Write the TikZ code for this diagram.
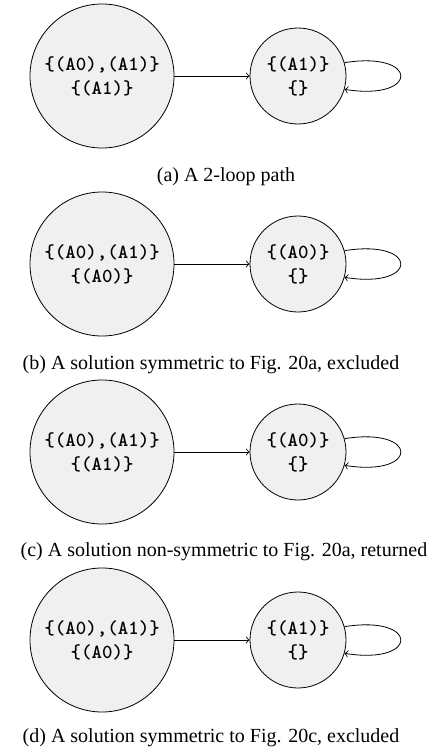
\documentclass[tikz,border=0pt]{standalone}
\usepackage{fontspec}
\setmainfont{Liberation Serif}
\usepackage{tikz}

\begin{document}
\begin{tikzpicture}[x=0.5pt, y=-0.5pt,
    state/.style={circle, draw, fill=black!6, inner sep=0pt, align=center, font=\ttfamily\bfseries},
    big/.style={state, minimum size=72pt},
    small/.style={state, minimum size=48pt}]
        \useasboundingbox (0,0) rectangle (442,755);
        % (a)
        \node[big] (big-a) at (102,76) {\{(A0),(A1)\}\\\{(A1)\}};
        \node[small] (small-a) at (298,76) {\{(A1)\}\\\{\}};
        \draw[->] (big-a) -- (small-a);
        \draw[->] (small-a.16) .. controls +(75,-12) and +(75,12) .. (small-a.-16);
        \node (cap-a) at (226,177) {(a) A 2-loop path};
        % (b)
        \node[big] (big-b) at (102,264) {\{(A0),(A1)\}\\\{(A0)\}};
        \node[small] (small-b) at (298,264) {\{(A0)\}\\\{\}};
        \draw[->] (big-b) -- (small-b);
        \draw[->] (small-b.16) .. controls +(75,-12) and +(75,12) .. (small-b.-16);
        \node (cap-b) at (211,365) {(b) A solution symmetric to Fig. 20a, excluded};
        % (c)
        \node[big] (big-c) at (102,452) {\{(A0),(A1)\}\\\{(A1)\}};
        \node[small] (small-c) at (298,452) {\{(A0)\}\\\{\}};
        \draw[->] (big-c) -- (small-c);
        \draw[->] (small-c.16) .. controls +(75,-12) and +(75,12) .. (small-c.-16);
        \node (cap-c) at (224,552) {(c) A solution non-symmetric to Fig. 20a, returned};
        % (d)
        \node[big] (big-d) at (102,640) {\{(A0),(A1)\}\\\{(A0)\}};
        \node[small] (small-d) at (298,640) {\{(A1)\}\\\{\}};
        \draw[->] (big-d) -- (small-d);
        \draw[->] (small-d.16) .. controls +(75,-12) and +(75,12) .. (small-d.-16);
        \node (cap-d) at (211,738) {(d) A solution symmetric to Fig. 20c, excluded};
    \end{tikzpicture}
\end{document}
